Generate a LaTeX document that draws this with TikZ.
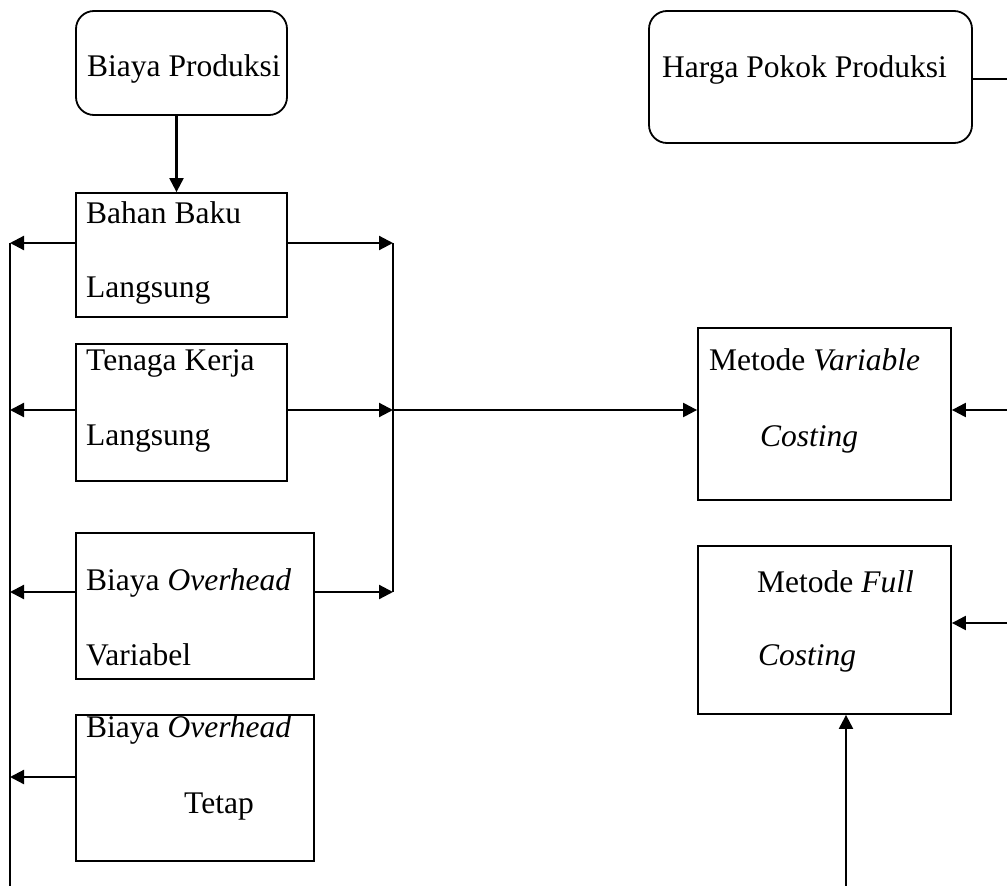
\documentclass[tikz,border=0pt]{standalone}
\usepackage{fontspec}
\setmainfont{Liberation Serif}
\usetikzlibrary{arrows.meta}

\tikzset{
  box/.style={draw, line width=1.8pt, inner sep=0pt},
  rbox/.style={box, rounded corners=18pt},
  txt/.style={anchor=base west, inner sep=0pt, font=\fontsize{31.5}{38}\selectfont},
  arr/.style={line width=2.2pt, -{Triangle[length=14pt,width=14pt]}},
  ln/.style={line width=2.2pt}
}

\begin{document}
\begin{tikzpicture}[x=1pt,y=-1pt]
\useasboundingbox (0,0) rectangle (1007,886);
% boxes
\node[rbox, minimum width=211pt, minimum height=104pt] (prod) at (181.5,63) {};
\node[rbox, minimum width=323pt, minimum height=132pt] (hpp) at (810.5,77) {};
\node[box, minimum width=211pt, minimum height=124pt] (bbl) at (181.5,255) {};
\node[box, minimum width=211pt, minimum height=137pt] (tkl) at (181.5,412.5) {};
\node[box, minimum width=238pt, minimum height=146pt] (bov) at (195,606) {};
\node[box, minimum width=238pt, minimum height=146pt] (bot) at (195,788) {};
\node[box, minimum width=253pt, minimum height=172pt] (mvc) at (824.5,414) {};
\node[box, minimum width=253pt, minimum height=168pt] (mfc) at (824.5,630) {};
% texts
\node[txt] (prod-t) at (87,76) {Biaya Produksi};
\node[txt] (hpp-t) at (662,77) {Harga Pokok Produksi};
\node[txt] (bbl-t1) at (86,223) {Bahan Baku};
\node[txt] (bbl-t2) at (86,297) {Langsung};
\node[txt] (tkl-t1) at (86,370) {Tenaga Kerja};
\node[txt] (tkl-t2) at (86,445) {Langsung};
\node[txt] (bov-t1) at (86,590) {Biaya \textit{Overhead}};
\node[txt] (bov-t2) at (86,665) {Variabel};
\node[txt] (bot-t1) at (86,737) {Biaya \textit{Overhead}};
\node[txt] (bot-t2) at (184,813) {Tetap};
\node[txt] (mvc-t1) at (709,370) {Metode \textit{Variable}};
\node[txt] (mvc-t2) at (760,446) {\textit{Costing}};
\node[txt] (mfc-t1) at (757,592) {Metode \textit{Full}};
\node[txt] (mfc-t2) at (758,665) {\textit{Costing}};
% trunk points
\coordinate (l1) at (10,243);
\coordinate (l2) at (10,410);
\coordinate (l3) at (10,592);
\coordinate (l4) at (10,777);
\coordinate (lend) at (10,886);
\coordinate (r1) at (393,243);
\coordinate (r2) at (393,410);
\coordinate (r3) at (393,592);
\coordinate (e0) at (1007,79);
\coordinate (e1) at (1007,410);
\coordinate (e2) at (1007,623);
\coordinate (b0) at (846,886);
% connectors
\draw[arr] ([xshift=-5pt]prod.south) -- ([xshift=-5pt]bbl.north);
\foreach \b/\c in {bbl/l1, tkl/l2, bov/l3, bot/l4}
  \draw[arr] (\b.west |- \c) -- (\c);
\foreach \b/\c in {bbl/r1, tkl/r2, bov/r3}
  \draw[arr] (\b.east |- \c) -- (\c);
\draw[ln] (l1) -- (lend);
\draw[ln] (r1) -- (r3);
\draw[arr] (r2) -- (mvc.west |- r2);
\draw[ln] (hpp.east |- e0) -- (e0);
\draw[arr] (e1) -- (mvc.east |- e1);
\draw[arr] (e2) -- (mfc.east |- e2);
\draw[arr] (b0) -- (mfc.south -| b0);
\end{tikzpicture}
\end{document}
